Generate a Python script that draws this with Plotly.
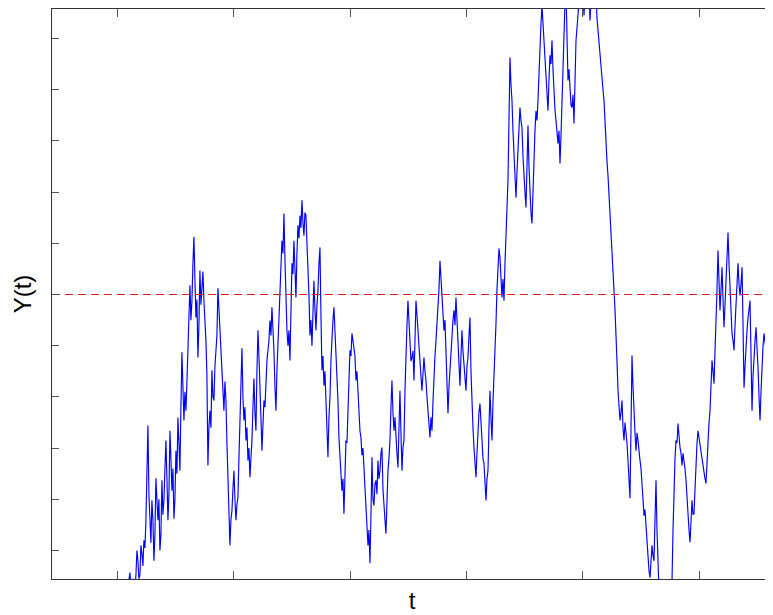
import numpy as np
import plotly.graph_objects as go

t0 = 1.02
dt = 0.0086
y_values = [
    -5.98, -5.80, -5.88, -5.95, -5.78, -5.60, -5.68, -5.85, -5.74, -5.50,
    -5.43, -5.70, -5.78, -5.55, -5.68, -5.75, -5.49, -5.00, -5.20, -5.55,
    -5.49, -4.90, -5.06, -5.30, -4.80, -4.95, -4.41, -3.60, -2.56, -3.90,
    -4.61, -4.85, -4.02, -4.40, -5.20, -4.70, -3.59, -3.95, -4.41, -4.00,
    -5.00, -4.70, -3.63, -4.30, -4.02, -3.40, -2.85, -3.60, -4.41, -3.90,
    -2.66, -3.20, -3.83, -3.40, -4.38, -4.00, -3.05, -3.50, -2.40, -2.90,
    -3.44, -2.20, -1.13, -1.80, -2.46, -1.90, -2.27, -1.70, -1.09, -0.40,
    0.18, -0.50, -0.12, 0.60, 1.13, 0.30, -0.45, -0.10, -1.23, -0.60,
    0.47, -0.20, 0.27, 0.45, -0.12, -0.50, -0.90, -1.60, -3.34, -2.60,
    -2.27, -2.60, -1.48, -2.00, -2.07, -1.40, -1.09, -0.80, 0.12, -0.30,
    -0.70, -1.10, -1.43, -1.80, -2.27, -1.70, -2.07, -2.90, -3.44, -4.20,
    -4.90, -4.40, -4.22, -3.80, -3.44, -4.00, -4.41, -4.10, -3.96, -3.20,
    -2.46, -1.70, -1.05, -2.00, -2.46, -2.20, -2.85, -2.60, -3.24, -3.00,
    -3.57, -3.20, -2.85, -2.20, -1.64, -2.30, -2.66, -1.50, -0.70, -1.20,
    -1.68, -2.40, -3.05, -2.50, -2.07, -2.20, -1.68, -1.30, -1.09, -0.90,
    -0.51, -0.80, -0.25, -0.60, -1.09, -1.80, -2.27, -1.50, -0.90, -0.40,
    -0.12, 0.50, 1.05, 0.80, 1.58, 0.70, -0.12, -0.70, -1.00, -0.70,
    -1.29, -0.20, 0.61, 0.40, 1.05, 0.50, -0.06, 0.80, 1.35, 1.10,
    1.54, 1.30, 1.84, 1.40, 1.15, 1.60, 1.54, 1.00, 0.61, 0.00,
    -0.80, -0.50, -1.00, -0.30, 0.27, -0.30, -0.70, -0.20, 0.08, 0.60,
    0.92, -0.40, -1.48, -1.20, -1.78, -1.50, -1.97, -2.60, -3.18, -2.40,
    -2.01, -1.30, -0.70, -0.50, -0.25, -0.70, -1.00, -1.60, -2.07, -2.80,
    -3.30, -3.50, -3.83, -3.60, -4.28, -3.40, -2.85, -2.90, -2.46, -1.70,
    -1.09, -1.20, -0.76, -0.90, -1.00, -1.20, -1.68, -1.50, -1.88, -2.30,
    -2.66, -2.80, -3.14, -3.00, -3.44, -3.80, -4.02, -4.50, -4.90, -4.60,
    -5.25, -4.30, -3.18, -4.00, -4.12, -3.70, -3.63, -3.90, -3.24, -3.60,
    -3.44, -3.10, -2.99, -3.80, -4.22, -4.40, -4.67, -4.00, -3.44, -3.20,
    -2.85, -2.20, -1.68, -2.30, -2.66, -2.40, -2.85, -3.10, -3.38, -2.60,
    -1.88, -2.70, -3.44, -3.00, -2.85, -1.90, -1.09, -0.60, -0.12, -0.50,
    -0.90, -1.30, -1.23, -1.10, -1.68, -0.70, -0.12, -0.40, -0.76, -1.10,
    -1.29, -1.60, -1.88, -1.40, -1.23, -1.50, -1.68, -2.00, -2.32, -2.50,
    -2.79, -2.40, -2.66, -2.10, -1.54, -1.20, -0.90, -0.60, -0.31, 0.10,
    0.66, 0.30, 0.08, -0.30, -0.70, -0.50, -1.00, -1.70, -2.32, -1.80,
    -1.43, -1.00, -0.70, -0.50, -0.31, -0.60, -0.06, -0.50, -1.04, -1.50,
    -1.78, -1.20, -0.70, -1.10, -1.35, -1.60, -1.88, -1.40, -1.23, -0.80,
    -0.45, -1.50, -2.27, -2.60, -2.99, -3.30, -3.57, -3.10, -2.66, -2.30,
    -2.13, -2.60, -2.99, -3.20, -3.30, -3.70, -4.02, -3.60, -3.44, -2.60,
    -1.88, -2.40, -2.85, -2.10, -1.68, -1.10, -0.57, 0.10, 0.47, 0.90,
    0.72, 0.30, -0.06, 0.30, -0.12, 0.60, 1.15, 1.80, 2.23, 3.40,
    4.63, 4.10, 3.79, 3.20, 2.62, 2.20, 1.89, 2.40, 2.81, 3.30,
    3.65, 3.40, 3.26, 2.70, 2.23, 2.00, 1.70, 2.60, 3.30, 2.50,
    1.84, 1.60, 1.39, 2.10, 2.81, 3.20, 3.59, 3.40, 3.79, 4.40,
    4.90, 5.30, 5.64, 5.30, 4.96, 4.60, 4.28, 3.90, 3.59, 4.20,
    4.67, 4.50, 4.96, 4.40, 3.79, 3.60, 3.40, 3.10, 2.95, 3.20,
    2.56, 3.10, 3.89, 4.70, 5.35, 5.70, 5.94, 5.00, 4.18, 4.40,
    3.93, 3.70, 3.65, 3.90, 3.34, 4.20, 4.96, 5.20, 5.55, 5.90,
    6.13, 6.40, 6.52, 5.90, 5.45, 5.90, 6.33, 6.60, 6.72, 6.00,
    5.35, 5.70, 6.13, 6.30, 6.52, 6.20, 5.94, 5.40, 5.16, 4.90,
    4.67, 4.30, 4.18, 4.00, 3.79, 3.30, 2.81, 2.60, 2.32, 1.90,
    1.54, 1.10, 0.66, 0.40, 0.08, -0.30, -0.70, -1.30, -1.88, -2.10,
    -2.46, -2.30, -2.07, -2.60, -2.85, -2.50, -2.66, -2.90, -3.24, -3.70,
    -3.98, -2.60, -1.19, -1.80, -2.46, -2.70, -3.05, -2.70, -2.85, -3.10,
    -3.24, -3.40, -3.63, -4.00, -4.32, -4.20, -4.51, -4.90, -5.20, -5.40,
    -5.53, -5.10, -4.90, -5.10, -5.20, -4.40, -3.63, -4.60, -5.59, -5.80,
    -5.98, -6.20, -6.37, -6.60, -6.76, -6.60, -6.56, -6.40, -6.17, -6.00,
    -5.98, -5.80, -5.59, -4.60, -3.63, -3.20, -2.85, -2.90, -2.52, -2.80,
    -2.99, -3.10, -3.34, -3.10, -3.24, -3.40, -3.63, -4.00, -4.41, -4.60,
    -4.84, -4.40, -4.02, -4.30, -4.28, -3.80, -3.24, -2.90, -2.66, -2.80,
    -2.95, -3.10, -3.24, -3.30, -3.44, -3.60, -3.69, -3.20, -2.66, -2.50,
    -2.27, -1.80, -1.29, -1.50, -1.74, -1.10, -0.64, 0.10, 0.86, 0.30,
    -0.31, 0.10, 0.53, -0.10, -0.64, -0.20, 0.21, 0.70, 1.21, 0.60,
    0.08, -0.40, -0.76, -0.90, -1.09, -0.60, -0.12, 0.30, 0.61, 0.20,
    -0.02, 0.20, 0.53, -0.60, -1.82, -1.40, -0.90, -0.70, -0.45, -0.30,
    -0.12, -1.20, -2.27, -1.60, -1.09, -0.90, -0.64, -1.00, -1.43, -2.00,
    -2.46, -1.90, -1.29, -1.00, -0.76, -0.90, -1.09, -2.80, -4.41, -3.50,
    -2.71, -2.00, -1.48,
]
t_values = t0 + dt * np.arange(len(y_values))

reference_level = 0.0
x_range = [0.436, 6.627]
y_range = [-5.556, 5.576]
x_ticks = [1, 2, 3, 4, 5, 6]
y_ticks = [-5, -4, -3, -2, -1, 0, 1, 2, 3, 4, 5]

fig = go.Figure()
fig.add_trace(go.Scatter(
    x=t_values, y=y_values, mode="lines",
    line=dict(color="#0000ff", width=1.15),
    hoverinfo="skip", showlegend=False,
))
fig.add_trace(go.Scatter(
    x=x_range, y=[reference_level, reference_level], mode="lines",
    line=dict(color="#dd2222", width=1, dash="8px,5px"),
    hoverinfo="skip", showlegend=False,
))

axis_common = dict(
    showgrid=False, zeroline=False, showticklabels=False,
    showline=True, linecolor="#333333", linewidth=1, mirror="ticks",
    ticks="inside", tickcolor="#555555", tickwidth=1,
)

fig.update_layout(
    width=765, height=607,
    margin=dict(l=44, r=1, t=1, b=36),
    paper_bgcolor="white", plot_bgcolor="white",
    font=dict(family="Liberation Sans, Arial, sans-serif", color="black"),
    xaxis=dict(range=x_range, tickvals=x_ticks, ticklen=8,
               title=dict(text="t", font=dict(size=24), standoff=13),
               **axis_common),
    yaxis=dict(range=y_range, tickvals=y_ticks, ticklen=7,
               title=dict(text="Y(t)", font=dict(size=24), standoff=12),
               **axis_common),
)

fig.write_html("out.html")
